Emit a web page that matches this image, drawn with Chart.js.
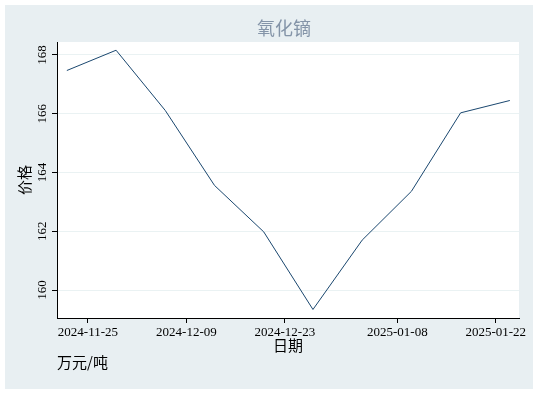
<!DOCTYPE html>
<html>
<head>
<meta charset="utf-8">
<script src="https://cdn.jsdelivr.net/npm/chart.js@4.4.1/dist/chart.umd.min.js"></script>
<style>
	html, body { margin: 0; padding: 0; background: #fff; }
	#wrap { width: 538px; height: 394px; }
</style>
</head>
<body>
<div id="wrap"><canvas id="chart" width="538" height="394"></canvas></div>
<script>
// weekly prices (万元/吨)
var dates = ['2024-11-22', '2024-11-29', '2024-12-06', '2024-12-13', '2024-12-20',
	'2024-12-27', '2025-01-03', '2025-01-10', '2025-01-17', '2025-01-24']
var prices = [167.47, 168.16, 166.11, 163.56, 161.98, 159.34, 161.70, 163.36, 166.03, 166.45]

// axis ticks
var xTickDates = ['2024-11-25', '2024-12-09', '2024-12-23', '2025-01-08', '2025-01-22']
var yTicks = [160, 162, 164, 166, 168]

var title = '氧化镝'
var yTitle = '价格'
var xTitle = '日期'
var unitNote = '万元/吨'

// day numbers so the x axis can be linear
function toDay (s) {
	return Date.UTC(+s.slice(0, 4), +s.slice(5, 7) - 1, +s.slice(8, 10)) / 86400000
}

var points = dates.map((d, i) => ({ x: toDay(d), y: prices[i] }))
var serif = '"Liberation Serif", "DejaVu Serif", serif'
var cjk = '"Noto Sans CJK SC", sans-serif'

// panel background + white plot region
var background = {
	id: 'background',
	beforeDraw: function (chart) {
		var ctx = chart.ctx
		var a = chart.chartArea
		ctx.save()
		ctx.fillStyle = '#e8eff2'
		ctx.fillRect(5, 5, 528, 384)
		ctx.fillStyle = '#ffffff'
		ctx.fillRect(a.left, a.top, a.right - a.left, a.bottom - a.top)
		ctx.restore()
	}
}

// texts: title, rotated y labels, axis titles, unit note
var texts = {
	id: 'texts',
	afterDraw: function (chart) {
		var ctx = chart.ctx
		var a = chart.chartArea
		var ys = chart.scales.y
		var xs = chart.scales.x
		ctx.save()
		ctx.fillStyle = '#8494a8'
		ctx.font = '18px ' + cjk
		ctx.textAlign = 'center'
		ctx.textBaseline = 'middle'
		ctx.fillText(title, 284, 28)

		ctx.fillStyle = '#000'
		ctx.font = '13px ' + serif
		yTicks.forEach(v => {
			var py = ys.getPixelForValue(v)
			ctx.save()
			ctx.translate(a.left - 14, py)
			ctx.rotate(-Math.PI / 2)
			ctx.fillText(String(v), 0, 0)
			ctx.restore()
		})

		xTickDates.forEach(d => {
			ctx.fillText(d, xs.getPixelForValue(toDay(d)), 333)
		})

		ctx.font = '15px ' + cjk
		ctx.save()
		ctx.translate(24, 180)
		ctx.rotate(-Math.PI / 2)
		ctx.fillText(yTitle, 0, 0)
		ctx.restore()

		ctx.fillText(xTitle, 288, 345)
		ctx.textAlign = 'left'
		ctx.fillText(unitNote, 57, 362)
		ctx.restore()
	}
}

new Chart(document.getElementById('chart').getContext('2d'), {
	type: 'line',
	data: {
		datasets: [{
			data: points,
			borderColor: '#1a476f',
			borderWidth: 1,
			pointRadius: 0,
			tension: 0
		}]
	},
	options: {
		responsive: false,
		animation: false,
		layout: {
			padding: { left: 52, right: 19, top: 42, bottom: 71 }
		},
		plugins: {
			legend: { display: false },
			tooltip: { enabled: false }
		},
		scales: {
			x: {
				type: 'linear',
				min: toDay(dates[0]) - 1.4,
				max: toDay(dates[dates.length - 1]) + 1.3,
				afterBuildTicks: function (axis) {
					axis.ticks = xTickDates.map(d => ({ value: toDay(d) }))
				},
				grid: { color: 'transparent', tickColor: '#000', tickLength: 5 },
				border: { color: '#000', width: 1 },
				ticks: { display: false }
			},
			y: {
				min: 159.05,
				max: 168.44,
				afterBuildTicks: function (axis) {
					axis.ticks = yTicks.map(v => ({ value: v }))
				},
				grid: { color: '#eaf2f3', tickColor: '#000', tickLength: 5 },
				border: { color: '#000', width: 1 },
				ticks: { display: false }
			}
		}
	},
	plugins: [background, texts]
})
</script>
</body>
</html>
